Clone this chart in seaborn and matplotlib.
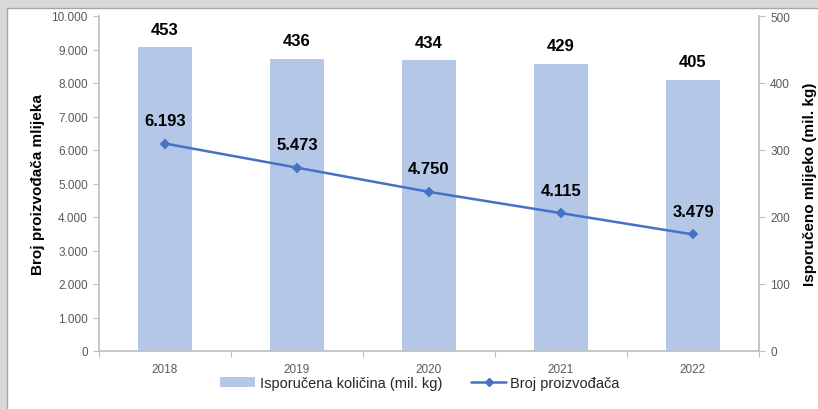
import matplotlib
matplotlib.use("Agg")
import matplotlib.pyplot as plt
from matplotlib.patches import Rectangle
from matplotlib.lines import Line2D
from matplotlib.patches import Patch
from matplotlib.ticker import FuncFormatter, MultipleLocator, FixedLocator
import numpy as np
import pandas as pd
import seaborn as sns

years = ["2018", "2019", "2020", "2021", "2022"]
delivered = [453, 436, 434, 429, 405]          # mil. kg
producers = [6193, 5473, 4750, 4115, 3479]      # number of producers

bar_label = "Isporučena količina (mil. kg)"
line_label = "Broj proizvođača"
left_title = "Broj proizvođača mlijeka"
right_title = "Isporučeno mlijeko (mil. kg)"

sns.set_theme(style="white")
plt.rcParams["font.family"] = ["Liberation Sans", "DejaVu Sans"]

BAR_COLOR = "#b4c7e7"
LINE_COLOR = "#4472c4"
TICK_COLOR = "#595959"
SPINE_COLOR = "#bfbfbf"

df = pd.DataFrame({"year": years, "delivered": delivered, "producers": producers})

W, H = 818, 410
fig = plt.figure(figsize=(W / 100, H / 100), dpi=100)
fig.patch.set_facecolor("#d9d9d9")
fig.patches.append(Rectangle((7 / W, -0.01), 1, 1.01 - 9 / H, transform=fig.transFigure,
                             facecolor="white", edgecolor="#a6a6a6", linewidth=1.0,
                             zorder=-10))

ax_bar = fig.add_axes([99 / W, 1 - 352 / H, (759 - 99) / W, (352 - 17) / H])
ax_bar.set_facecolor("none")

sns.barplot(data=df, x="year", y="delivered", ax=ax_bar, color=BAR_COLOR,
            width=0.41, saturation=1, edgecolor="none")
ax_bar.set_ylim(0, 500)
ax_bar.set_xlim(-0.5, len(years) - 0.5)

ax_line = ax_bar.twinx()
sns.pointplot(data=df, x="year", y="producers", ax=ax_line, color=LINE_COLOR,
              marker="D", markersize=4.5, linewidth=1.8, errorbar=None)
ax_line.set_ylim(0, 10000)
ax_line.set_xlim(-0.5, len(years) - 0.5)

# bar scale on the right, producer scale on the left
ax_bar.yaxis.tick_right()
ax_bar.yaxis.set_label_position("right")
ax_line.yaxis.tick_left()
ax_line.yaxis.set_label_position("left")

ax_bar.yaxis.set_major_locator(MultipleLocator(100))
ax_line.yaxis.set_major_locator(MultipleLocator(1000))
ax_line.yaxis.set_major_formatter(FuncFormatter(lambda v, p: f"{int(v):,}".replace(",", ".")))

for a in (ax_bar, ax_line):
    for s in a.spines.values():
        s.set_visible(False)
    a.tick_params(axis="y", which="both", length=4, width=0.8, color=SPINE_COLOR,
                  labelsize=8.5, labelcolor=TICK_COLOR, pad=4, direction="out")

ax_line.spines["left"].set_visible(True)
ax_line.spines["left"].set_color(SPINE_COLOR)
ax_line.spines["right"].set_visible(True)
ax_line.spines["right"].set_color(SPINE_COLOR)
ax_line.spines["bottom"].set_visible(True)
ax_line.spines["bottom"].set_color(SPINE_COLOR)

# category ticks between the groups
ax_bar.xaxis.set_major_locator(FixedLocator(range(len(years))))
ax_bar.set_xticklabels(years)
ax_bar.xaxis.set_minor_locator(FixedLocator(np.arange(-0.5, len(years), 1.0)))
ax_bar.tick_params(axis="x", which="major", length=0, labelsize=8.5,
                   labelcolor=TICK_COLOR, pad=9)
ax_bar.tick_params(axis="x", which="minor", length=4, width=0.8, color=SPINE_COLOR,
                   direction="out", bottom=True)
ax_line.tick_params(axis="x", which="both", bottom=False, labelbottom=False)

ax_bar.set_xlabel("")
ax_line.set_xlabel("")
ax_line.set_ylabel(left_title, fontsize=11, fontweight="bold", color="black", labelpad=4.5)
ax_bar.set_ylabel(right_title, fontsize=11, fontweight="bold", color="black", labelpad=9.5)

for i, v in enumerate(delivered):
    ax_bar.annotate(f"{v}", (i, v), xytext=(0, 13), textcoords="offset points",
                    ha="center", va="center", fontsize=12, fontweight="bold",
                    color="black")

for i, v in enumerate(producers):
    ax_line.annotate(f"{v:,}".replace(",", "."), (i, v), xytext=(0, 16.5),
                     textcoords="offset points", ha="center", va="center",
                     fontsize=12, fontweight="bold", color="black")

handles = [Patch(facecolor=BAR_COLOR, edgecolor="none"),
           Line2D([], [], color=LINE_COLOR, marker="D", markersize=4, linewidth=1.8)]
fig.legend(handles, [bar_label, line_label], loc="center", ncol=2,
           bbox_to_anchor=(420 / W, 1 - 384 / H), frameon=False, fontsize=10.5,
           handlelength=2.4, handleheight=0.7, columnspacing=2.0, handletextpad=0.3)

fig.savefig("out.png", dpi=100)
